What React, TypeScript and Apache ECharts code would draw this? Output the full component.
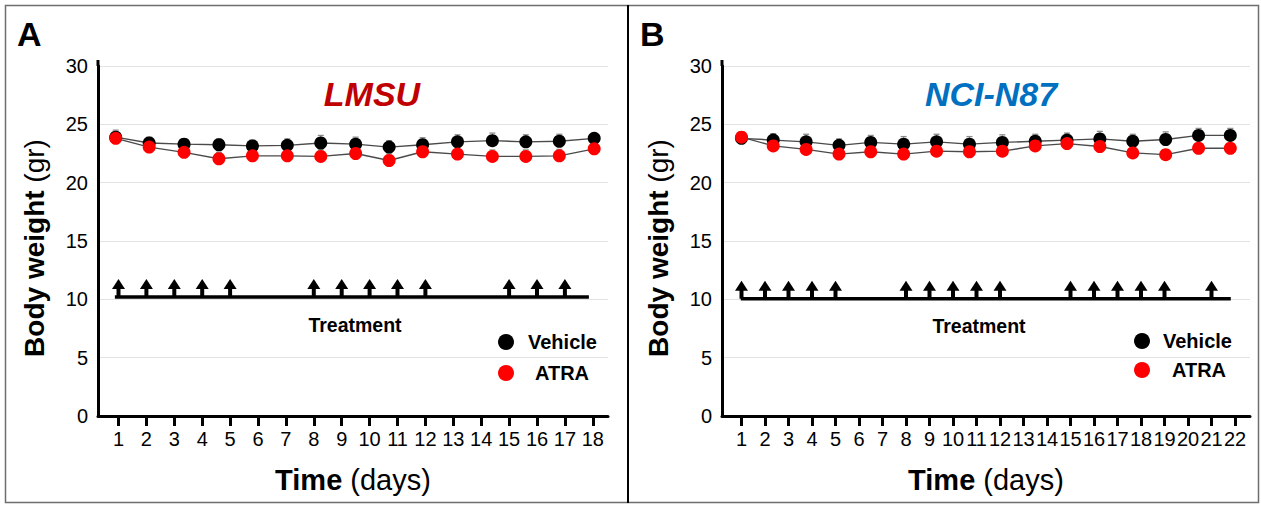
import React, { useEffect, useRef } from "react";
import * as echarts from "echarts";

const FONT = "'Liberation Sans', Arial, Helvetica, sans-serif";

// Panel A (LMSU)
const dayLabelsA = ["1","2","3","4","5","6","7","8","9","10","11","12","13","14","15","16","17","18"];
const timeA = [0.9, 2.1, 3.35, 4.6, 5.8, 7.05, 8.25, 9.5, 10.7, 11.9, 13.15, 14.4, 15.6, 16.8, 18.05];
const vehicleA = [23.9, 23.4, 23.3, 23.25, 23.15, 23.2, 23.4, 23.3, 23.05, 23.25, 23.5, 23.6, 23.5, 23.55, 23.8];
const vehicleErrA = [0.6, 0.5, 0.45, 0.5, 0.5, 0.55, 0.65, 0.6, 0.55, 0.6, 0.6, 0.65, 0.6, 0.6, 0.45];
const atraA = [23.8, 23.05, 22.6, 22.05, 22.3, 22.3, 22.25, 22.5, 21.9, 22.65, 22.45, 22.25, 22.25, 22.3, 22.9];
const atraErrA = [0.4, 0.4, 0.35, 0.55, 0.35, 0.35, 0.55, 0.35, 0.55, 0.3, 0.35, 0.55, 0.55, 0.55, 0.35];
const treatDaysA = [1, 2, 3, 4, 5, 8, 9, 10, 11, 12, 15, 16, 17];
const treatSpanA = [0.87, 17.86];
const treatLevelA = 10.2;

// Panel B (NCI-N87)
const dayLabelsB = ["1","2","3","4","5","6","7","8","9","10","11","12","13","14","15","16","17","18","19","20","21","22"];
const timeB = [1, 2.35, 3.75, 5.15, 6.5, 7.9, 9.3, 10.7, 12.1, 13.5, 14.85, 16.25, 17.65, 19.05, 20.45, 21.8];
const vehicleB = [23.8, 23.65, 23.5, 23.2, 23.45, 23.3, 23.5, 23.3, 23.45, 23.55, 23.65, 23.75, 23.55, 23.7, 24.05, 24.05];
const vehicleErrB = [0.55, 0.55, 0.65, 0.55, 0.6, 0.65, 0.65, 0.65, 0.65, 0.6, 0.6, 0.65, 0.6, 0.65, 0.6, 0.6];
const atraB = [23.9, 23.15, 22.85, 22.45, 22.65, 22.45, 22.7, 22.65, 22.7, 23.15, 23.35, 23.1, 22.55, 22.4, 22.95, 22.95];
const atraErrB = [0.45, 0.35, 0.35, 0.35, 0.35, 0.35, 0.35, 0.35, 0.35, 0.35, 0.35, 0.35, 0.35, 0.35, 0.35, 0.35];
const treatDaysB = [1, 2, 3, 4, 5, 8, 9, 10, 11, 12, 15, 16, 17, 18, 19, 21];
const treatSpanB = [0.97, 21.82];
const treatLevelB = 10.05;

const yTicks = { min: 0, max: 30, interval: 5 };

function zip(xs: number[], ys: number[]) {
  return xs.map((x, i) => [x, ys[i]]);
}
function zip3(xs: number[], ys: number[], es: number[]) {
  return xs.map((x, i) => [x, ys[i], es[i]]);
}

function errorBarRender(params: any, api: any) {
  const x = api.value(0);
  const y = api.value(1);
  const e = api.value(2);
  const p = api.coord([x, y]);
  const t = api.coord([x, y + e]);
  return {
    type: "group",
    children: [
      { type: "line", shape: { x1: p[0], y1: p[1], x2: t[0], y2: t[1] }, style: { stroke: "#8a8a8a", lineWidth: 1 } },
      { type: "line", shape: { x1: t[0] - 3, y1: t[1], x2: t[0] + 3, y2: t[1] }, style: { stroke: "#8a8a8a", lineWidth: 1.3 } },
    ],
  };
}

function arrowRender(params: any, api: any) {
  const p = api.coord([api.value(0), api.value(1)]);
  return {
    type: "group",
    children: [
      {
        type: "polygon",
        shape: { points: [[p[0] - 6.5, p[1] - 8], [p[0], p[1] - 18], [p[0] + 6.5, p[1] - 8]] },
        style: { fill: "#000" },
      },
      { type: "rect", shape: { x: p[0] - 2, y: p[1] - 9, width: 4, height: 9 }, style: { fill: "#000" } },
    ],
  };
}

function panelSeries(
  xi: number,
  time: number[],
  veh: number[],
  vehErr: number[],
  atra: number[],
  atraErr: number[],
  treatDays: number[],
  span: number[],
  level: number
) {
  return [
    {
      type: "line",
      name: "Treatment",
      xAxisIndex: xi,
      yAxisIndex: xi,
      data: [[span[0], level], [span[1], level]],
      symbol: "none",
      lineStyle: { color: "#000", width: 3.5 },
      z: 3,
      silent: true,
    },
    {
      type: "custom",
      xAxisIndex: xi,
      yAxisIndex: xi,
      data: treatDays.map((d) => [d, level]),
      renderItem: arrowRender,
      encode: { x: 0, y: 1 },
      z: 3,
      silent: true,
    },
    {
      type: "custom",
      xAxisIndex: xi,
      yAxisIndex: xi,
      data: zip3(time, veh, vehErr),
      renderItem: errorBarRender,
      encode: { x: 0, y: 1 },
      z: 2,
      silent: true,
    },
    {
      type: "custom",
      xAxisIndex: xi,
      yAxisIndex: xi,
      data: zip3(time, atra, atraErr),
      renderItem: errorBarRender,
      encode: { x: 0, y: 1 },
      z: 2,
      silent: true,
    },
    {
      type: "line",
      name: "Vehicle",
      xAxisIndex: xi,
      yAxisIndex: xi,
      data: zip(time, veh),
      symbol: "circle",
      symbolSize: 13,
      showAllSymbol: true,
      lineStyle: { color: "#4a4a4a", width: 1.4 },
      itemStyle: { color: "#000", borderWidth: 0 },
      z: 4,
    },
    {
      type: "line",
      name: "ATRA",
      xAxisIndex: xi,
      yAxisIndex: xi,
      data: zip(time, atra),
      symbol: "circle",
      symbolSize: 13,
      showAllSymbol: true,
      lineStyle: { color: "#4a4a4a", width: 1.4 },
      itemStyle: { color: "#ff0000", borderWidth: 0 },
      z: 5,
    },
  ];
}

function dataXAxis(gridIndex: number, min: number, max: number) {
  return {
    type: "value",
    gridIndex,
    min,
    max,
    axisLine: { show: true, onZero: false, lineStyle: { color: "#000", width: 3 } },
    axisTick: { show: false },
    axisLabel: { show: false },
    splitLine: { show: false },
    name: "{b|Time} {n|(days)}",
    nameLocation: "middle",
    nameGap: 49,
    nameTextStyle: {
      fontSize: 29,
      fontFamily: FONT,
      rich: {
        b: { fontSize: 29, fontWeight: "bold", fontFamily: FONT, color: "#000" },
        n: { fontSize: 29, fontFamily: FONT, color: "#000" },
      },
    },
  };
}

function labelXAxis(gridIndex: number, labels: string[]) {
  return {
    type: "category",
    gridIndex,
    data: labels,
    boundaryGap: true,
    axisLine: { show: false },
    axisTick: { show: true, alignWithLabel: true, length: 10, lineStyle: { color: "#000", width: 3 } },
    axisLabel: { show: true, interval: 0, margin: 13, fontSize: 20, fontFamily: FONT, color: "#000" },
    splitLine: { show: false },
  };
}

function dataYAxis(gridIndex: number) {
  return {
    type: "value",
    gridIndex,
    ...yTicks,
    axisLine: { show: true, lineStyle: { color: "#000", width: 3 } },
    axisTick: { show: false },
    axisLabel: { fontSize: 20, fontFamily: FONT, color: "#000", margin: 10 },
    splitLine: { show: true, lineStyle: { color: "#e3e3e3", width: 1 } },
    name: "{b|Body weight} {n|(gr)}",
    nameLocation: "middle",
    nameGap: 50,
    nameTextStyle: {
      fontSize: 28,
      fontFamily: FONT,
      padding: [0, 14, 0, 0],
      rich: {
        b: { fontSize: 28, fontWeight: "bold", fontFamily: FONT, color: "#000" },
        n: { fontSize: 28, fontFamily: FONT, color: "#000" },
      },
    },
  };
}

function hiddenYAxis(gridIndex: number) {
  return { type: "value", gridIndex, ...yTicks, show: false };
}

function txt(x: number, y: number, text: string, size: number, opts: any = {}) {
  return {
    type: "text",
    x,
    y,
    silent: true,
    style: {
      text,
      fontSize: size,
      fontWeight: opts.weight || "bold",
      fontStyle: opts.style || "normal",
      fontFamily: FONT,
      fill: opts.color || "#000",
      textAlign: opts.align || "left",
      align: opts.align || "left",
      textVerticalAlign: "middle",
      verticalAlign: "middle",
    },
  };
}

export default function App() {
  const ref = useRef<HTMLDivElement>(null);
  useEffect(() => {
    if (!ref.current) return;
    const chart = echarts.init(ref.current, undefined, { renderer: "svg" });
    const aLeft = 98, aRight = 608, aDay1 = 118.5, aStep = 27.9;
    const bLeft = 722, bRight = 1250, bDay1 = 741.5, bStep = 23.5;
    const top = 66, height = 350;
    const aMin = 1 - (aDay1 - aLeft) / aStep;
    const aMax = aMin + (aRight - aLeft) / aStep;
    const bMin = 1 - (bDay1 - bLeft) / bStep;
    const bMax = bMin + (bRight - bLeft) / bStep;

    const option: any = {
      animation: false,
      backgroundColor: "#fff",
      grid: [
        { left: aLeft, top, width: aRight - aLeft, height },
        { left: aDay1 - aStep / 2, top, width: aStep * dayLabelsA.length, height },
        { left: bLeft, top, width: bRight - bLeft, height },
        { left: bDay1 - bStep / 2, top, width: bStep * dayLabelsB.length, height },
      ],
      xAxis: [
        dataXAxis(0, aMin, aMax),
        labelXAxis(1, dayLabelsA),
        dataXAxis(2, bMin, bMax),
        labelXAxis(3, dayLabelsB),
      ],
      yAxis: [dataYAxis(0), hiddenYAxis(1), dataYAxis(2), hiddenYAxis(3)],
      series: [
        ...panelSeries(0, timeA, vehicleA, vehicleErrA, atraA, atraErrA, treatDaysA, treatSpanA, treatLevelA),
        ...panelSeries(2, timeB, vehicleB, vehicleErrB, atraB, atraErrB, treatDaysB, treatSpanB, treatLevelB),
      ],
      graphic: [
        { type: "rect", silent: true, shape: { x: 5.5, y: 5.5, width: 1253, height: 497 }, style: { fill: "none", stroke: "#6e6e6e", lineWidth: 1.5 } },
        { type: "line", silent: true, shape: { x1: 628, y1: 5, x2: 628, y2: 503 }, style: { stroke: "#000", lineWidth: 2 } },
        { type: "line", silent: true, shape: { x1: aLeft, y1: 60, x2: aLeft, y2: top }, style: { stroke: "#000", lineWidth: 3 } },
        { type: "line", silent: true, shape: { x1: bLeft, y1: 60, x2: bLeft, y2: top }, style: { stroke: "#000", lineWidth: 3 } },
        txt(17, 34, "A", 34),
        txt(640, 34, "B", 34),
        txt(372, 94, "LMSU", 34, { style: "italic", color: "#c00000", align: "center" }),
        txt(991, 94, "NCI-N87", 34, { style: "italic", color: "#0070c0", align: "center" }),
        txt(355, 325, "Treatment", 19.5, { align: "center" }),
        txt(979, 326, "Treatment", 19.5, { align: "center" }),
        { type: "circle", silent: true, shape: { cx: 506, cy: 342, r: 8 }, style: { fill: "#000" } },
        { type: "circle", silent: true, shape: { cx: 506, cy: 373, r: 8 }, style: { fill: "#ff0000" } },
        txt(528, 342, "Vehicle", 20),
        txt(535, 373, "ATRA", 20),
        { type: "circle", silent: true, shape: { cx: 1142, cy: 341, r: 8 }, style: { fill: "#000" } },
        { type: "circle", silent: true, shape: { cx: 1142, cy: 370, r: 8 }, style: { fill: "#ff0000" } },
        txt(1163, 341, "Vehicle", 20),
        txt(1172, 370, "ATRA", 20),
      ],
    };
    chart.setOption(option);
    return () => chart.dispose();
  }, []);
  return (
    <div
      ref={ref}
      style={{ position: "absolute", left: 0, top: 0, width: 1261, height: 506, background: "#fff" }}
    />
  );
}
